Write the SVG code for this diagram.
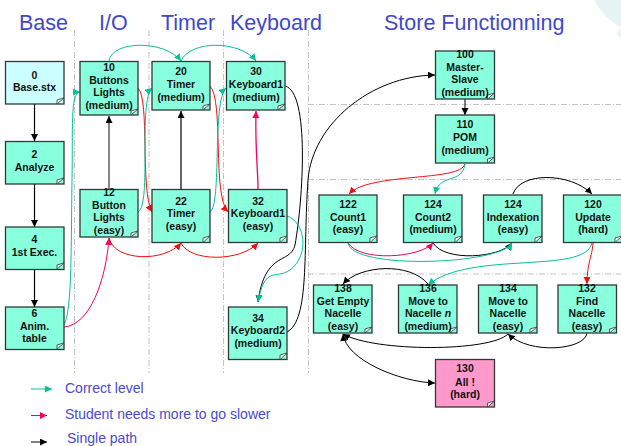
<svg xmlns="http://www.w3.org/2000/svg" width="621" height="446" viewBox="0 0 621 446">
<style>
text{font-family:"Liberation Sans",Arial,sans-serif}
.h{font-size:21.500px;fill:#3f48cc}
.l{font-size:14px;fill:#4a4ad0}
.n rect{fill:#88ffdd;stroke:#2f3a38;stroke-width:1.300}
.n.b rect{fill:#ccffff}
.n.p rect{fill:#ff99cc}
.n path{fill:#fff;stroke:#333;stroke-width:.8}
.n text{font-size:10.500px;font-weight:bold;fill:#111;text-anchor:middle}
.d{stroke:#b4b4b4;stroke-width:.8;stroke-dasharray:6 2 1 2;fill:none}
.c path{fill:none;stroke-width:1}
.g{stroke:#00c39a;marker-end:url(#mg)}
.r{stroke:#f01010;marker-end:url(#mr)}
.m{stroke:#f5005f;marker-end:url(#mm)}
.k{stroke:#000;marker-end:url(#mk)}
</style>
<defs>
<marker id="mg" markerUnits="userSpaceOnUse" markerWidth="8" markerHeight="8" refX="7" refY="3.500" orient="auto"><path d="M0 0L7 3.500L0 7Z" fill="#00c39a"/></marker>
<marker id="mr" markerUnits="userSpaceOnUse" markerWidth="8" markerHeight="8" refX="7" refY="3.500" orient="auto"><path d="M0 0L7 3.500L0 7Z" fill="#f01010"/></marker>
<marker id="mm" markerUnits="userSpaceOnUse" markerWidth="8" markerHeight="8" refX="7" refY="3.500" orient="auto"><path d="M0 0L7 3.500L0 7Z" fill="#f5005f"/></marker>
<marker id="mk" markerUnits="userSpaceOnUse" markerWidth="8" markerHeight="8" refX="7" refY="3.500" orient="auto"><path d="M0 0L7 3.500L0 7Z" fill="#000"/></marker>
<marker id="ks" markerUnits="userSpaceOnUse" markerWidth="8" markerHeight="8" refX="0" refY="3.500" orient="auto"><path d="M7 0L0 3.500L7 7Z" fill="#000"/></marker>
</defs>
<path d="M594 0C600 12 610 22 621 27V0Z" fill="#e6f5f4"/>
<path d="M621 28Q617 32 616 34L621 38Z" fill="#e6f5f4"/>
<g id="headings">
<text class="h" x="19" y="30">Base</text>
<text class="h" x="99" y="30">I/O</text>
<text class="h" x="161" y="30">Timer</text>
<text class="h" x="230" y="30">Keyboard</text>
<text class="h" x="384" y="30">Store Functionning</text>
</g>
<g id="dividers">
<path class="d" d="M74.500 30V373M149 30V373M223.500 30V373M308.500 30V373M308 104.500H621M308 179.500H621M308 274H621"/>
</g>
<g id="connectors" class="c">
<path class="k" style="stroke-width:1.200" d="M34.500 104V141"/>
<path class="k" style="stroke-width:1.200" d="M34.500 184V227"/>
<path class="k" style="stroke-width:1.200" d="M34.500 269V307"/>
<path class="g" d="M64 325C72 310 71 250 72 180C73 130 70 92 80 92"/>
<path class="m" d="M64 327C90 325 106 280 109 238"/>
<path style="stroke:#666;stroke-width:1.600" class="k" d="M109 189V116"/>
<path class="k" style="stroke-width:1.200" d="M181 189V111"/>
<path class="m" style="stroke-width:1.300" d="M258 189C258 170 255 150 256 111"/>
<path class="r" d="M109 238C115 262 165 262 181 243"/>
<path class="r" d="M181 243C190 262 240 262 258 243"/>
<path class="g" d="M109 61C112 40 165 40 181 61"/>
<path class="g" d="M181 61C190 40 240 40 256 61"/>
<path class="r" d="M138 88C150 100 140 190 152 212"/>
<path class="g" d="M138 212C152 205 138 100 152 88"/>
<path class="r" d="M210 86C224 100 212 195 228 212"/>
<path class="g" d="M210 212C222 205 212 100 226 88"/>
<path class="k" d="M285 86C310 92 303 200 295 245C290 265 265 250 258 302"/>
<path class="g" d="M287 216C305 222 310 255 290 270C275 280 265 265 258 302"/>
<path class="k" d="M287 332C310 320 303 250 308 180C312 125 370 76 435 75"/>
<path style="stroke:#444;stroke-width:1.400" class="k" d="M465 99V115"/>
<path class="r" d="M465 164C460 182 370 172 349 194"/>
<path class="g" d="M465 164C462 185 440 172 435 194"/>
<path class="k" d="M513 194C520 172 570 172 592 194"/>
<path class="m" d="M348 243C360 262 420 258 433 243"/>
<path class="k" d="M433 243C445 262 500 258 512 243"/>
<path class="g" d="M348 243C352 270 500 265 512 243"/>
<path class="g" d="M592 243C585 275 470 250 428 285"/>
<path class="r" d="M593 243C592 258 587 262 587 284"/>
<path class="k" d="M428 284C410 262 360 265 343 284"/>
<path class="k" d="M508 334C490 352 375 352 343 334"/>
<path class="k" d="M587 333C585 350 530 355 508 334"/>
<path class="k" marker-start="url(#ks)" d="M343 334C346 360 400 382 435 383"/>
</g>
<g id="n0" class="n b"><rect x="5.500" y="61.500" width="58.500" height="42.500"/><path d="M64 98L57 104L57 100Q60 99 64 98Z"/><text x="34.500" y="79">0</text><text x="34.500" y="91">Base.stx</text></g>
<g id="n2" class="n"><rect x="5.500" y="141.500" width="58.500" height="42.500"/><path d="M64 178L57 184L57 180Q60 179 64 178Z"/><text x="34.500" y="158">2</text><text x="34.500" y="171">Analyze</text></g>
<g id="n4" class="n"><rect x="5.500" y="227" width="58.500" height="42.500"/><path d="M64 263L57 269L57 265Q60 264 64 263Z"/><text x="34.500" y="243">4</text><text x="34.500" y="256">1st Exec.</text></g>
<g id="n6" class="n"><rect x="5.500" y="307" width="58.500" height="42.500"/><path d="M64 343L57 349L57 345Q60 344 64 343Z"/><text x="34.500" y="317">6</text><text x="34.500" y="330">Anim.</text><text x="34.500" y="342">table</text></g>
<g id="n10" class="n"><rect x="80" y="61.500" width="58" height="53.500"/><path d="M138 109L131 115L131 111Q134 110 138 109Z"/><text x="109" y="71">10</text><text x="109" y="84">Buttons</text><text x="109" y="96">Lights</text><text x="109" y="109">(medium)</text></g>
<g id="n12" class="n"><rect x="80" y="189.500" width="58" height="47.500"/><path d="M138 231L131 237L131 233Q134 232 138 231Z"/><text x="109" y="196">12</text><text x="109" y="209">Button</text><text x="109" y="221">Lights</text><text x="109" y="234">(easy)</text></g>
<g id="n20" class="n"><rect x="152" y="61.500" width="58" height="48.500"/><path d="M210 104L203 110L203 106Q206 105 210 104Z"/><text x="181" y="75">20</text><text x="181" y="88">Timer</text><text x="181" y="101">(medium)</text></g>
<g id="n22" class="n"><rect x="152" y="189.500" width="58" height="53"/><path d="M210 236L203 242.500L203 238Q206 237 210 236Z"/><text x="181" y="205">22</text><text x="181" y="217">Timer</text><text x="181" y="230">(easy)</text></g>
<g id="n30" class="n"><rect x="226.500" y="61.500" width="58.500" height="48.500"/><path d="M285 104L278 110L278 106Q281 105 285 104Z"/><text x="256" y="75">30</text><text x="256" y="88">Keyboard1</text><text x="256" y="101">(medium)</text></g>
<g id="n32" class="n"><rect x="228.500" y="189.500" width="58.500" height="53"/><path d="M287 236L280 242.500L280 238Q283 237 287 236Z"/><text x="258" y="205">32</text><text x="258" y="217">Keyboard1</text><text x="258" y="230">(easy)</text></g>
<g id="n34" class="n"><rect x="228.500" y="307" width="58.500" height="52.500"/><path d="M287 353L280 359.500L280 355Q283 354 287 353Z"/><text x="258" y="322">34</text><text x="258" y="334">Keyboard2</text><text x="258" y="347">(medium)</text></g>
<g id="n100" class="n"><rect x="435.500" y="51" width="59" height="48"/><path d="M494.500 93L487.500 99L487.500 95Q491 94 494.500 93Z"/><text x="465" y="58">100</text><text x="465" y="71">Master-</text><text x="465" y="83">Slave</text><text x="465" y="96">(medium)</text></g>
<g id="n110" class="n"><rect x="435.500" y="115" width="59" height="48"/><path d="M494.500 157L487.500 163L487.500 159Q491 158 494.500 157Z"/><text x="465" y="128">110</text><text x="465" y="141">POM</text><text x="465" y="154">(medium)</text></g>
<g id="n122" class="n"><rect x="319" y="195" width="58" height="47.500"/><path d="M377 236L370 242.500L370 238Q373 237 377 236Z"/><text x="348" y="208">122</text><text x="348" y="221">Count1</text><text x="348" y="233">(easy)</text></g>
<g id="n124a" class="n"><rect x="403.500" y="195" width="58.500" height="47.500"/><path d="M462 236L455 242.500L455 238Q458 237 462 236Z"/><text x="433" y="208">124</text><text x="433" y="221">Count2</text><text x="433" y="233">(medium)</text></g>
<g id="n124b" class="n"><rect x="483.500" y="195" width="58.500" height="47.500"/><path d="M542 236L535 242.500L535 238Q538 237 542 236Z"/><text x="513" y="208">124</text><text x="513" y="221">Indexation</text><text x="513" y="233">(easy)</text></g>
<g id="n120" class="n"><rect x="563.500" y="195" width="58.500" height="47.500"/><path d="M622 236L615 242.500L615 238Q618 237 622 236Z"/><text x="593" y="208">120</text><text x="593" y="221">Update</text><text x="593" y="233">(hard)</text></g>
<g id="n138" class="n"><rect x="313.500" y="285" width="58.500" height="48"/><path d="M372 327L365 333L365 329Q368 328 372 327Z"/><text x="343" y="292">138</text><text x="343" y="305">Get Empty</text><text x="343" y="317">Nacelle</text><text x="343" y="330">(easy)</text></g>
<g id="n136" class="n"><rect x="398.500" y="285" width="58.500" height="48"/><path d="M457 327L450 333L450 329Q453 328 457 327Z"/><text x="428" y="292">136</text><text x="428" y="305">Move to</text><text x="428" y="317">Nacelle <tspan font-style="italic">n</tspan></text><text x="428" y="330">(medium)</text></g>
<g id="n134" class="n"><rect x="478.500" y="285" width="58.500" height="48"/><path d="M537 327L530 333L530 329Q533 328 537 327Z"/><text x="508" y="292">134</text><text x="508" y="305">Move to</text><text x="508" y="317">Nacelle</text><text x="508" y="330">(easy)</text></g>
<g id="n132" class="n"><rect x="558" y="285" width="58.500" height="48"/><path d="M616.500 327L609.500 333L609.500 329Q613 328 616.500 327Z"/><text x="587" y="292">132</text><text x="587" y="305">Find</text><text x="587" y="317">Nacelle</text><text x="587" y="330">(easy)</text></g>
<g id="n130" class="n p"><rect x="435.500" y="359.500" width="59" height="47.500"/><path d="M494.500 401L487.500 407L487.500 403Q491 402 494.500 401Z"/><text x="465" y="372">130</text><text x="465" y="386">All !</text><text x="465" y="398">(hard)</text></g>
<g id="legend" class="c">
<path class="g" d="M31 389H52"/>
<path class="m" d="M31 415.500H47"/>
<path class="k" d="M31 442H47"/>
</g>
<text class="l" x="65" y="393">Correct level</text>
<text class="l" x="65" y="419">Student needs more to go slower</text>
<text class="l" x="67" y="443">Single path</text>
</svg>
